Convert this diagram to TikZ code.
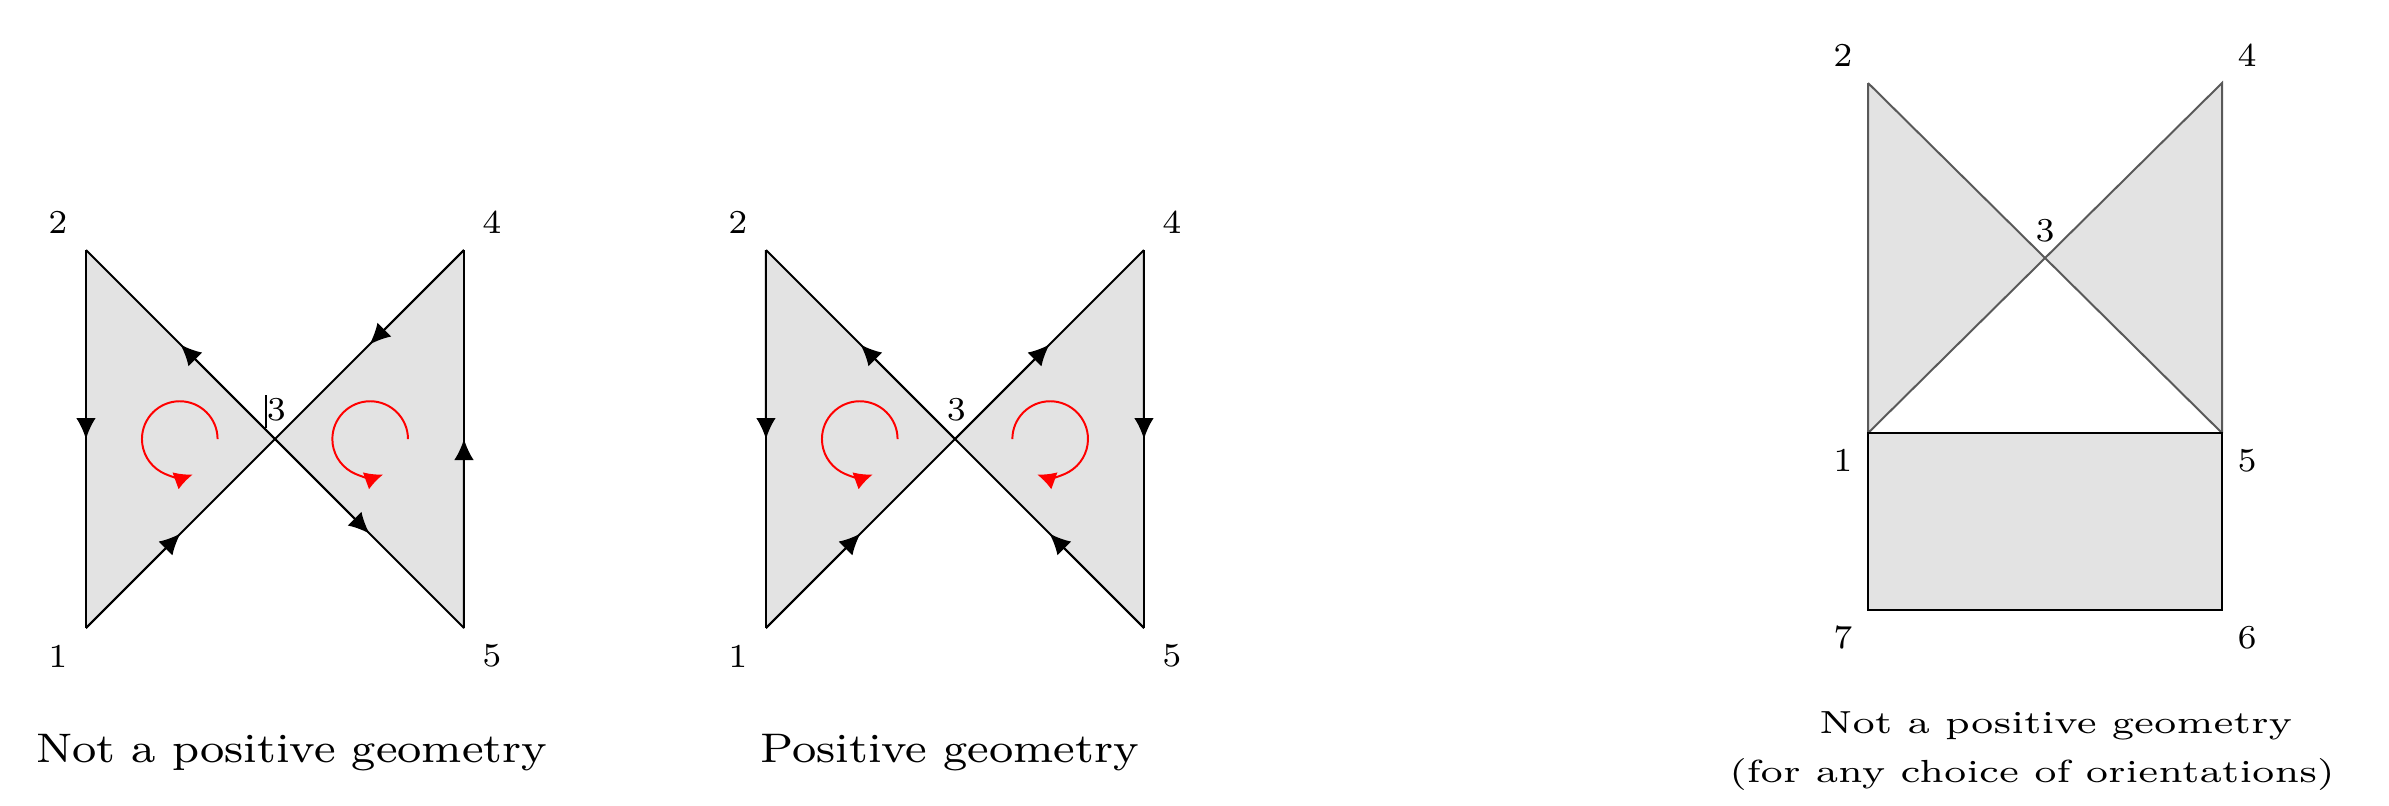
\documentclass[tikz,border=0pt]{standalone}
\usepackage{xcolor}
\usepackage{tikz}
\usetikzlibrary{arrows.meta, calc}

\definecolor{facegray}{gray}{0.89}

\begin{document}
\begin{tikzpicture}[
  face/.style={fill=facegray, draw=none},
  side/.style={line width=0.4pt},
  half/.style={line width=0.4pt, -{Latex[length=1.5mm, width=1.4mm]}},
  spin/.style={red, line width=0.4pt, -{Latex[length=1.3mm, width=1.3mm]}},
  vlab/.style={font=\fontsize{6.8}{8}\selectfont, inner sep=0pt},
  capt/.style={font=\fontsize{8.4}{10}\selectfont, xscale=1.105, anchor=base, inner sep=0pt},
  wcapt/.style={font=\fontsize{6.5}{8}\selectfont, xscale=1.23, anchor=base, inner sep=0pt}
]
  \def\bw{2.7}
  \def\gap{4.857}
  \def\rad{0.27}
  \def\lo{0.2}

  \useasboundingbox (-0.614,-1.271) rectangle (16.45,4.486);

  % left: not a positive geometry
  \coordinate (l1) at (0,0);
  \coordinate (l2) at (0,\bw);
  \coordinate (l3) at (\bw/2,\bw/2);
  \coordinate (l4) at (\bw,\bw);
  \coordinate (l5) at (\bw,0);

  \fill[face] (l1) -- (l3) -- (l2) -- cycle;
  \fill[face] (l3) -- (l5) -- (l4) -- cycle;
  \foreach \a/\b in {l2/l1, l1/l3, l3/l2, l4/l3, l3/l5, l5/l4} {
    \draw[side] (\a) -- (\b);
    \draw[half] (\a) -- ($(\a)!0.5!(\b)$);
  }

  \draw[spin] ($(l3)+(-0.68+\rad,0)$) arc[start angle=0, end angle=290, radius=\rad];
  \draw[spin] ($(l3)+(0.68+\rad,0)$) arc[start angle=0, end angle=290, radius=\rad];

  \node[vlab] (l1n) at ($(l1)+(-\lo,-\lo)$) {1};
  \node[vlab] (l2n) at ($(l2)+(-\lo,\lo)$) {2};
  \node[vlab] (l3n) at ($(l3)+(0.01,0.21)$) {3};
  \node[vlab] (l4n) at ($(l4)+(\lo,\lo)$) {4};
  \node[vlab] (l5n) at ($(l5)+(\lo,-\lo)$) {5};
  \draw[line width=0.4pt] ($(l3)+(-0.066,0.079)$) -- ++(0,0.235);

  \node[capt] (lcap) at (1.47,-0.957) {Not a positive geometry};

  % middle: positive geometry
  \coordinate (m1) at (\gap,0);
  \coordinate (m2) at (\gap,\bw);
  \coordinate (m3) at (\gap+\bw/2,\bw/2);
  \coordinate (m4) at (\gap+\bw,\bw);
  \coordinate (m5) at (\gap+\bw,0);

  \fill[face] (m1) -- (m3) -- (m2) -- cycle;
  \fill[face] (m3) -- (m5) -- (m4) -- cycle;
  \foreach \a/\b in {m2/m1, m1/m3, m3/m2, m3/m4, m4/m5, m5/m3} {
    \draw[side] (\a) -- (\b);
    \draw[half] (\a) -- ($(\a)!0.5!(\b)$);
  }

  \draw[spin] ($(m3)+(-0.68+\rad,0)$) arc[start angle=0, end angle=290, radius=\rad];
  \draw[spin] ($(m3)+(0.68-\rad,0)$) arc[start angle=180, end angle=-110, radius=\rad];

  \node[vlab] (m1n) at ($(m1)+(-\lo,-\lo)$) {1};
  \node[vlab] (m2n) at ($(m2)+(-\lo,\lo)$) {2};
  \node[vlab] (m3n) at ($(m3)+(0.01,0.21)$) {3};
  \node[vlab] (m4n) at ($(m4)+(\lo,\lo)$) {4};
  \node[vlab] (m5n) at ($(m5)+(\lo,-\lo)$) {5};

  \node[capt] (mcap) at (6.17,-0.957) {Positive geometry};

  % right: bow tie on a rectangle
  \coordinate (r1) at (12.729,1.393);
  \coordinate (r2) at (12.729,3.893);
  \coordinate (r4) at (15.257,3.893);
  \coordinate (r5) at (15.257,1.393);
  \coordinate (r6) at (15.257,0.129);
  \coordinate (r7) at (12.729,0.129);
  \coordinate (r3) at ($(r1)!0.5!(r4)$);

  \fill[face] (r1) -- (r3) -- (r2) -- cycle;
  \fill[face] (r3) -- (r5) -- (r4) -- cycle;
  \fill[face] (r7) rectangle (r5);
  \draw[black!65, line width=0.4pt] (r2) -- (r1) (r2) -- (r5) (r1) -- (r4) -- (r5);
  \draw[line width=0.5pt] (r1) rectangle (r6);

  \node[vlab] (r1n) at ($(r1)+(-0.18,-0.195)$) {1};
  \node[vlab] (r2n) at ($(r2)+(-0.18,0.195)$) {2};
  \node[vlab] (r3n) at ($(r3)+(0,0.195)$) {3};
  \node[vlab] (r4n) at ($(r4)+(0.18,0.195)$) {4};
  \node[vlab] (r5n) at ($(r5)+(0.18,-0.195)$) {5};
  \node[vlab] (r6n) at ($(r6)+(0.18,-0.195)$) {6};
  \node[vlab] (r7n) at ($(r7)+(-0.18,-0.195)$) {7};

  \node[wcapt] (rcap) at (14.07,-0.75) {Not a positive geometry};
  \node[wcapt] (rcapb) at (13.9,-1.1) {(for any choice of orientations)};
\end{tikzpicture}
\end{document}
